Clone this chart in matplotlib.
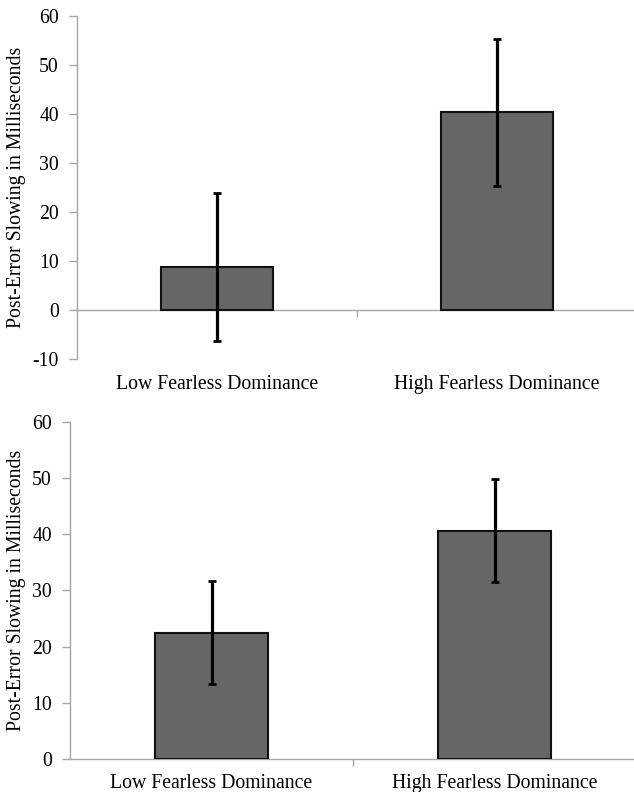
import matplotlib
matplotlib.use("Agg")
import matplotlib.pyplot as plt
from matplotlib.ticker import FixedLocator

plt.rcParams['font.family'] = ['Liberation Serif', 'DejaVu Serif']

categories = ["Low Fearless Dominance", "High Fearless Dominance"]
top_means = [8.7, 40.4]
top_errors = [15.1, 15.0]
bottom_means = [22.5, 40.6]
bottom_errors = [9.1, 9.2]
ylabel = "Post-Error Slowing in Milliseconds"
top_yticks = [-10, 0, 10, 20, 30, 40, 50, 60]
bottom_yticks = [0, 10, 20, 30, 40, 50, 60]

W, H = 634, 792
fig = plt.figure(figsize=(W / 100, H / 100), dpi=100)

axis_color = "#a6a6a6"
bar_color = "#666666"
FS = 14.2


def style(ax, yticks, label_x_px, left_px):
    ax.set_xlim(-0.5, 1.5)
    ax.set_ylim(yticks[0], yticks[-1])
    ax.set_yticks(yticks)
    ax.set_yticklabels([str(t) for t in yticks], fontsize=FS)
    for s in ["top", "right"]:
        ax.spines[s].set_visible(False)
    for s in ["left", "bottom"]:
        ax.spines[s].set_color(axis_color)
        ax.spines[s].set_linewidth(1.0)
    ax.tick_params(axis="y", direction="out", length=6, width=1.0,
                   color=axis_color, pad=7, labelcolor="black")
    ax.set_xticks([0, 1])
    ax.set_xticklabels([])
    ax.tick_params(axis="x", which="major", length=0)
    ax.xaxis.set_minor_locator(FixedLocator([0.5]))
    ax.tick_params(axis="x", which="minor", direction="out", length=5,
                   width=1.0, color=axis_color)
    ax.set_ylabel(ylabel, fontsize=FS)
    ax.yaxis.set_label_coords((label_x_px - left_px) / (W * ax.get_position().width), 0.5)


def draw(ax, means, errors):
    x = list(range(len(categories)))
    ax.bar(x, means, width=0.40, color=bar_color, edgecolor="#111111",
           linewidth=1.5, zorder=3)
    ax.errorbar(x, means, yerr=errors, fmt="none", ecolor="black",
                elinewidth=2.3, capsize=2.6, capthick=2.0, zorder=4)


# top panel
ax1 = fig.add_axes([77 / W, 1 - 359 / H, (637 - 77) / W, (359 - 16) / H])
draw(ax1, top_means, top_errors)
style(ax1, top_yticks, 26, 77)
ax1.spines["bottom"].set_position(("data", 0))
for i, c in enumerate(categories):
    ax1.text(i, -0.088, c, transform=ax1.get_xaxis_transform(),
             ha="center", va="baseline", fontsize=FS)

# bottom panel
ax2 = fig.add_axes([70 / W, 1 - 759 / H, (636 - 70) / W, (759 - 421.7) / H])
draw(ax2, bottom_means, bottom_errors)
style(ax2, bottom_yticks, 26, 70)
for i, c in enumerate(categories):
    ax2.text(i, -0.087, c, transform=ax2.get_xaxis_transform(),
             ha="center", va="baseline", fontsize=FS)

fig.savefig("out.png", dpi=100)
